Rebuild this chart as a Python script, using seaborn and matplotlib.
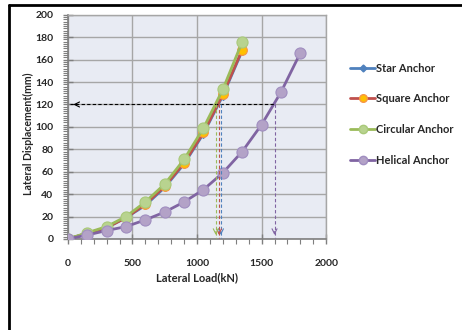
import matplotlib
matplotlib.use("Agg")
import matplotlib.pyplot as plt
import seaborn as sns
import pandas as pd
from matplotlib.ticker import MultipleLocator
from matplotlib.lines import Line2D

# Load steps (kN)
load_short = [0, 150, 300, 450, 600, 750, 900, 1050, 1200, 1350]
load_long = [0, 150, 300, 450, 600, 750, 900, 1050, 1200, 1350, 1500, 1650, 1800]

# Lateral displacement (mm) for each anchor type
star_disp = [0, 5, 10, 19, 30, 46, 67, 94, 128, 168]
square_disp = [0, 5, 10, 19, 31, 47, 68, 95, 129, 169]
circular_disp = [0, 5.5, 11, 20, 33, 49, 71, 99, 133.5, 176]
helical_disp = [0, 3.5, 7.5, 11, 17, 24, 33, 44, 59, 78, 102, 131, 166]

series_names = ["Star Anchor", "Square Anchor", "Circular Anchor", "Helical Anchor"]

ref_disp = 120
ref_loads = [1185, 1170, 1145, 1600]

line_colors = ["#4F81BD", "#C0504D", "#9BBB59", "#8064A2"]
face_colors = ["#4F81BD", "#FFC000", "#B8D38F", "#B3A2C7"]
edge_colors = ["#4F81BD", "#F79646", "#A9C97A", "#A08EC0"]
markers = ["D", "o", "o", "o"]
msizes = [4, 7, 8, 8]
legend_msizes = [3.5, 5.5, 6, 6]

sns.set_theme(style="white")
plt.rcParams["font.family"] = ["Lato", "DejaVu Sans"]
plt.rcParams["font.weight"] = "bold"
plt.rcParams["axes.labelweight"] = "bold"

fig = plt.figure(figsize=(4.62, 3.30), dpi=100)
ax = fig.add_axes([0.147, 0.276, 0.559, 0.679])
ax.set_facecolor("#E8EBF3")

datasets = [
    (load_short, star_disp),
    (load_short, square_disp),
    (load_short, circular_disp),
    (load_long, helical_disp),
]

# Grid first so the curves sit above it
ax.set_axisbelow(True)
ax.grid(True, which="major", color="#A6A6A6", linewidth=1.0)

for i, (xs, ys) in enumerate(datasets):
    df = pd.DataFrame({"load": xs, "disp": ys})
    sns.lineplot(data=df, x="load", y="disp", ax=ax, color=line_colors[i],
                 linewidth=2.0, marker=markers[i], markersize=msizes[i],
                 markerfacecolor=face_colors[i], markeredgecolor=edge_colors[i],
                 markeredgewidth=0.8, label=series_names[i], zorder=3 + i,
                 legend=False)

# Horizontal guide at the reference displacement
ax.plot([20, ref_loads[3]], [ref_disp, ref_disp], color="black", lw=0.8,
        ls=(0, (3, 2)), zorder=9)
ax.annotate("", xy=(20, ref_disp), xytext=(90, ref_disp),
            arrowprops=dict(arrowstyle="->", color="black", lw=0.8,
                            mutation_scale=9), zorder=9)

# Vertical guides down to the load axis
for xv, c in zip(ref_loads, line_colors):
    ax.plot([xv, xv], [ref_disp, 1], color=c, lw=0.8, ls=(0, (3, 2)), zorder=9)
    ax.annotate("", xy=(xv, 1), xytext=(xv, 9),
                arrowprops=dict(arrowstyle="->", color=c, lw=0.8,
                                mutation_scale=9), zorder=9)

ax.set_xlim(0, 2000)
ax.set_ylim(0, 200)
ax.xaxis.set_major_locator(MultipleLocator(500))
ax.xaxis.set_minor_locator(MultipleLocator(100))
ax.yaxis.set_major_locator(MultipleLocator(20))
ax.yaxis.set_minor_locator(MultipleLocator(2))

for side in ["left", "bottom"]:
    ax.spines[side].set_color("#7F7F7F")
    ax.spines[side].set_linewidth(1.2)
for side in ["top", "right"]:
    ax.spines[side].set_color("#A6A6A6")
    ax.spines[side].set_linewidth(1.0)

ax.tick_params(axis="both", which="major", direction="inout", length=7,
               width=1.0, color="#7F7F7F", labelsize=7.5, pad=7)
ax.tick_params(axis="both", which="minor", direction="out", length=3.5,
               width=0.8, color="#7F7F7F")
ax.tick_params(axis="x", which="major", pad=11)
ax.tick_params(left=True, bottom=True, which="both")

ax.set_xlabel("Lateral Load(kN)", fontsize=8, fontweight="bold", labelpad=3)
ax.set_ylabel("Lateral Displacement(mm)", fontsize=7.6, fontweight="bold",
              labelpad=4)
ax.yaxis.set_label_coords(-0.13, 0.47)

handles = [Line2D([], [], color=line_colors[i], lw=2.0, marker=markers[i],
                  markersize=legend_msizes[i], markerfacecolor=face_colors[i],
                  markeredgecolor=edge_colors[i])
           for i in range(4)]
fig.legend(handles, series_names, loc="upper left",
           bbox_to_anchor=(0.745, 0.827), frameon=False, handlelength=2.3,
           handletextpad=0.1, labelspacing=1.77, borderpad=0,
           prop={"weight": "bold", "size": 8})

# Outer frame (top and left edges)
fig.add_artist(Line2D([8.5 / 462, 1.0], [1 - 5 / 330, 1 - 5 / 330],
                      transform=fig.transFigure, color="black", lw=2.0))
fig.add_artist(Line2D([8.5 / 462, 8.5 / 462], [0, 1 - 5 / 330],
                      transform=fig.transFigure, color="black", lw=2.0))

fig.savefig("out.png", dpi=100)
